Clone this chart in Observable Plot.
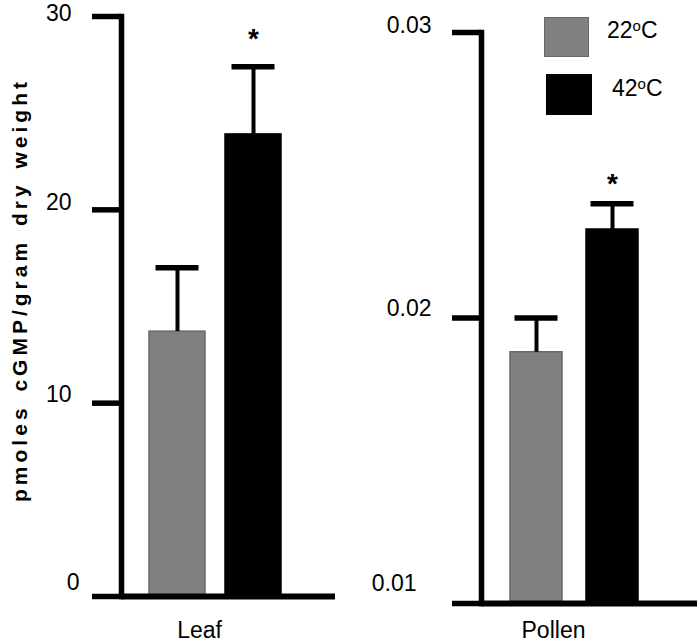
<!DOCTYPE html>
<html>
<head>
<meta charset="utf-8">
<script src="https://cdn.jsdelivr.net/npm/d3@7"></script>
<script src="https://cdn.jsdelivr.net/npm/@observablehq/plot@0.6"></script>
<style>
  body { margin: 0; background: #fff; font-family: "Liberation Sans", Arial, sans-serif; }
  #wrap { position: relative; width: 697px; height: 642px; overflow: hidden; }
  #wrap svg { position: absolute; top: 0; }
  .ytitle { position: absolute; left: 20px; top: 290px; transform: translate(-50%, -50%) rotate(-90deg);
            white-space: nowrap; font-weight: bold; font-size: 21px; letter-spacing: 4px; word-spacing: 3px; color: #000; }
  .sw { position: absolute; box-sizing: border-box; }
  .lt { position: absolute; font-size: 23px; line-height: 1; color: #000; transform: translateY(-50%); white-space: nowrap; }
  .lt sup { font-size: 15px; vertical-align: 0; position: relative; top: -0.45em; }
</style>
</head>
<body>
<div id="wrap"></div>
<script>
// ---- data ----
const categories = ["Leaf", "Pollen"];
const seriesTemps = [22, 42];               // °C
const leafMeans = [13.7, 23.9];
const leafErrors = [3.3, 3.5];
const leafSignificant = [false, true];
const pollenMeans = [0.0188, 0.0231];
const pollenErrors = [0.0012, 0.0009];
const pollenSignificant = [false, true];
const leafTicks = [0, 10, 20, 30];
const pollenTicks = [0.01, 0.02, 0.03];
const yTitle = "pmoles cGMP/gram dry weight";

// ---- styles ----
const fillColors = ["#808080", "#000000"];
const strokeColors = ["#686868", "#000000"];
const font = "Liberation Sans, Arial, sans-serif";
const leafLabelOffsets = [{dx: 8, dy: -14}, {dx: 0, dy: -9}, {dx: 0, dy: -7}, {dx: 0, dy: -3}];
const pollenLabelOffsets = [{dx: -15, dy: -20}, {dx: 0, dy: -9}, {dx: 0, dy: -7}];

const seriesNames = seriesTemps.map(t => `${t}oC`);
function rows(means, errs, sig) {
  return seriesNames.map((s, i) => ({series: s, i, value: means[i], err: errs[i], top: means[i] + errs[i], sig: sig[i]}));
}
const leafData = rows(leafMeans, leafErrors, leafSignificant);
const pollenData = rows(pollenMeans, pollenErrors, pollenSignificant);

function panel({data, width, marginLeft, marginRight, marginTop, marginBottom, xRange, pad, domain, ticks, fmt, offsets, inset, labelDx, labelDy, starDy, category}) {
  return Plot.plot({
    width, height: 642, marginLeft, marginRight, marginTop, marginBottom,
    style: {fontFamily: font, background: "transparent", overflow: "visible"},
    x: {type: "band", domain: seriesNames, range: xRange, paddingInner: pad, paddingOuter: pad, align: 0.5, axis: null},
    y: {domain, axis: null},
    marks: [
      Plot.barY(data, {x: "series", y1: domain[0], y2: "value", fill: d => fillColors[d.i], stroke: d => strokeColors[d.i], strokeWidth: 1.5, inset: 0}),
      Plot.ruleX(data, {x: "series", y1: "value", y2: "top", strokeWidth: 4, stroke: "#000"}),
      Plot.tickY(data, {x: "series", y: "top", strokeWidth: 5.5, stroke: "#000", insetLeft: inset, insetRight: inset}),
      Plot.text(data.filter(d => d.sig), {x: "series", y: "top", text: () => "*", fontSize: 28, fontWeight: "bold", lineAnchor: "middle", dy: starDy, fill: "#000"}),
      Plot.frame({anchor: "left", strokeWidth: 5.5, stroke: "#000"}),
      Plot.ruleY([domain[0]], {strokeWidth: 6, stroke: "#000"}),
      Plot.axisY({ticks, tickSize: 29, strokeWidth: 5.5, text: null, stroke: "#000"}),
      ...ticks.map((t, k) => Plot.axisY({ticks: [t], tickSize: 0, tickPadding: 50, tickFormat: fmt, fontSize: 23,
        dx: offsets[k].dx, dy: offsets[k].dy, fill: "#000"})),
      Plot.text([category], {frameAnchor: "bottom", text: d => d, fontSize: 23, dx: labelDx, dy: labelDy, lineAnchor: "middle", fill: "#000"})
    ]
  });
}

const wrap = document.getElementById("wrap");

const left = panel({
  data: leafData, width: 340, marginLeft: 121, marginRight: 5, marginTop: 16, marginBottom: 46,
  xRange: [128, 302], pad: 0.26, domain: [0, 30], ticks: leafTicks, fmt: d => String(d), offsets: leafLabelOffsets,
  inset: 6.5, labelDx: -29, labelDy: 34, starDy: -28, category: categories[0]
});
left.style.left = "0px";
wrap.appendChild(left);

const right = panel({
  data: pollenData, width: 357, marginLeft: 141, marginRight: 0, marginTop: 32, marginBottom: 39,
  xRange: [146, 323], pad: 0.31, domain: [0.01, 0.03], ticks: pollenTicks, fmt: d => d.toFixed(2), offsets: pollenLabelOffsets,
  inset: 4.5, labelDx: -36, labelDy: 27, starDy: -20, category: categories[1]
});
right.style.left = "340px";
wrap.appendChild(right);

// y title
const yt = document.createElement("div");
yt.className = "ytitle";
yt.textContent = yTitle;
wrap.appendChild(yt);

// legend
const legendBoxes = [{x: 544, y: 17, w: 45, h: 40}, {x: 546, y: 74, w: 46, h: 41}];
const legendText = [{x: 607, y: 30}, {x: 612, y: 88}];
seriesTemps.forEach((t, i) => {
  const b = document.createElement("div");
  b.className = "sw";
  Object.assign(b.style, {left: legendBoxes[i].x + "px", top: legendBoxes[i].y + "px", width: legendBoxes[i].w + "px", height: legendBoxes[i].h + "px",
    background: fillColors[i], border: `1.5px solid ${strokeColors[i]}`});
  wrap.appendChild(b);
  const l = document.createElement("div");
  l.className = "lt";
  l.style.left = legendText[i].x + "px";
  l.style.top = legendText[i].y + "px";
  l.innerHTML = `${t}<sup>o</sup>C`;
  wrap.appendChild(l);
});
</script>
</body>
</html>
